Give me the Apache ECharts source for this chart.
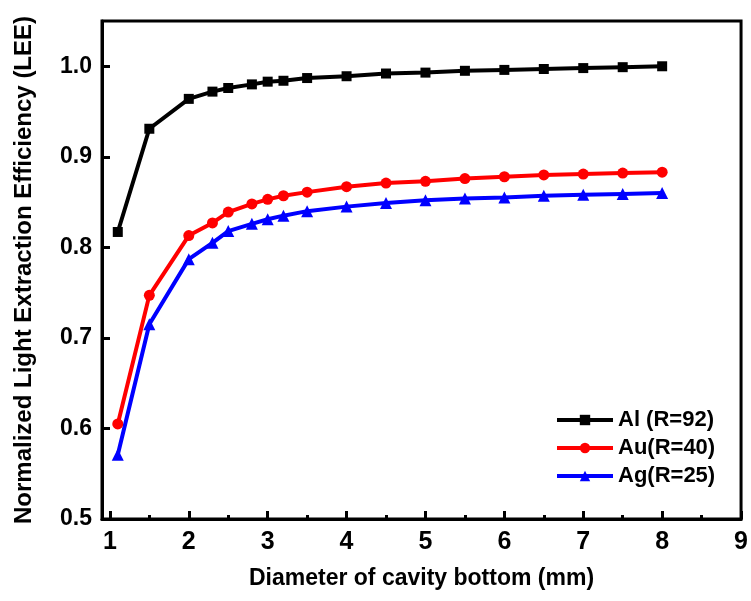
<!DOCTYPE html>
<html>
<head>
<meta charset="utf-8">
<script src="https://cdn.jsdelivr.net/npm/echarts@6/dist/echarts.min.js"></script>
<style>
  html, body { margin: 0; padding: 0; background: #fff; }
  #container { width: 751px; height: 601px; }
</style>
</head>
<body>
<div id="container"></div>
<script>
// diameter (mm)
var diameter = [1.1, 1.5, 2, 2.3, 2.5, 2.8, 3, 3.2, 3.5, 4, 4.5, 5, 5.5, 6, 6.5, 7, 7.5, 8];
var alLee = [0.817, 0.931, 0.964, 0.972, 0.976, 0.980, 0.983, 0.984, 0.987, 0.989, 0.992, 0.993, 0.995, 0.996, 0.997, 0.998, 0.999, 1.000];
var auLee = [0.605, 0.747, 0.813, 0.827, 0.839, 0.848, 0.853, 0.857, 0.861, 0.867, 0.871, 0.873, 0.876, 0.878, 0.880, 0.881, 0.882, 0.883];
var agLee = [0.571, 0.715, 0.787, 0.805, 0.818, 0.826, 0.831, 0.835, 0.840, 0.845, 0.849, 0.852, 0.854, 0.855, 0.857, 0.858, 0.859, 0.860];
var xTicks = [1, 2, 3, 4, 5, 6, 7, 8, 9];
var xMinorTicks = [1.5, 2.5, 3.5, 4.5, 5.5, 6.5, 7.5, 8.5];
var yTicks = [0.5, 0.6, 0.7, 0.8, 0.9, 1.0];

var font = 'Liberation Sans, Arial, sans-serif';

function pairs(ys){
    return diameter.map(function(x, i){ return [x, ys[i]]; });
}

var dom = document.getElementById('container');
var myChart = echarts.init(dom, null, { renderer: 'canvas' });

var option = {
    animation: false,
    backgroundColor: '#fff',
    grid: {
        left: 102, right: 9, top: 21, bottom: 82,
        show: true, borderColor: '#000', borderWidth: 3
    },
    legend: {
        orient: 'vertical',
        left: 555, top: 409,
        padding: 0,
        itemWidth: 56, itemHeight: 13, itemGap: 6,
        lineStyle: { width: 4 },
        textStyle: { fontFamily: font, fontWeight: 'bold', fontSize: 22, color: '#000' },
        data: ['Al (R=92)', 'Au(R=40)', 'Ag(R=25)']
    },
    xAxis: [
        {
            type: 'value', min: 0.9, max: 9,
            name: 'Diameter of cavity bottom (mm)',
            nameLocation: 'middle', nameGap: 48,
            nameTextStyle: { fontFamily: font, fontWeight: 'bold', fontSize: 23, color: '#000' },
            axisLine: { lineStyle: { color: '#000', width: 3 } },
            axisTick: { inside: true, length: 8, lineStyle: { width: 3, color: '#000' }, customValues: xTicks },
            axisLabel: { customValues: xTicks, margin: 11, fontFamily: font, fontWeight: 'bold', fontSize: 25, color: '#000' },
            splitLine: { show: false }
        },
        {
            type: 'value', min: 0.9, max: 9, position: 'bottom',
            axisLine: { show: false },
            axisTick: { inside: true, length: 4, lineStyle: { width: 3, color: '#000' }, customValues: xMinorTicks },
            axisLabel: { show: false },
            splitLine: { show: false }
        }
    ],
    yAxis: {
        type: 'value', min: 0.5, max: 1.05,
        name: 'Normalized Light Extraction Efficiency (LEE)',
        nameLocation: 'middle', nameGap: 66,
        nameTextStyle: { fontFamily: font, fontWeight: 'bold', fontSize: 24, color: '#000' },
        axisLine: { lineStyle: { color: '#000', width: 3 } },
        axisTick: { inside: true, length: 8, lineStyle: { width: 3, color: '#000' }, customValues: yTicks },
        axisLabel: {
            customValues: yTicks, margin: 10,
            fontFamily: font, fontWeight: 'bold', fontSize: 23, color: '#000',
            formatter: function(v){ return v.toFixed(1); }
        },
        splitLine: { show: false }
    },
    series: [
        {
            name: 'Al (R=92)', type: 'line', data: pairs(alLee),
            symbol: 'rect', symbolSize: 10,
            itemStyle: { color: '#000' },
            lineStyle: { color: '#000', width: 4 }
        },
        {
            name: 'Au(R=40)', type: 'line', data: pairs(auLee),
            symbol: 'circle', symbolSize: 11,
            itemStyle: { color: '#ff0000' },
            lineStyle: { color: '#ff0000', width: 4 }
        },
        {
            name: 'Ag(R=25)', type: 'line', data: pairs(agLee),
            symbol: 'triangle', symbolSize: 12,
            itemStyle: { color: '#0000ff' },
            lineStyle: { color: '#0000ff', width: 4 }
        }
    ]
};

myChart.setOption(option);
window.addEventListener('resize', myChart.resize);
</script>
</body>
</html>
